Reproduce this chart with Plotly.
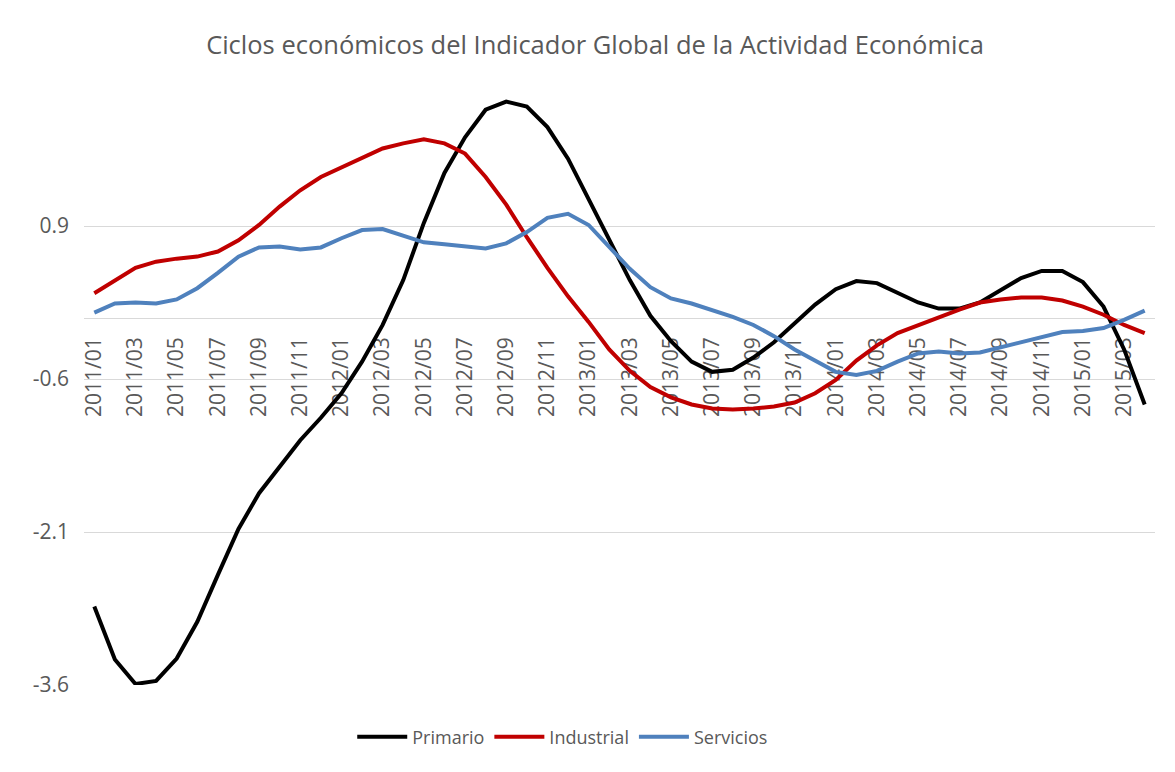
import plotly.graph_objects as go

categorias = [
    "2011/01", "2011/02", "2011/03", "2011/04", "2011/05", "2011/06", "2011/07", "2011/08", "2011/09", "2011/10", "2011/11", "2011/12",
    "2012/01", "2012/02", "2012/03", "2012/04", "2012/05", "2012/06", "2012/07", "2012/08", "2012/09", "2012/10", "2012/11", "2012/12",
    "2013/01", "2013/02", "2013/03", "2013/04", "2013/05", "2013/06", "2013/07", "2013/08", "2013/09", "2013/10", "2013/11", "2013/12",
    "2014/01", "2014/02", "2014/03", "2014/04", "2014/05", "2014/06", "2014/07", "2014/08", "2014/09", "2014/10", "2014/11", "2014/12",
    "2015/01", "2015/02", "2015/03", "2015/04",
]

primario = [-2.83, -3.35, -3.59, -3.56, -3.34, -2.98, -2.52, -2.07, -1.72, -1.46, -1.20, -0.98,
            -0.74, -0.43, -0.07, 0.37, 0.93, 1.42, 1.77, 2.04, 2.12, 2.07, 1.87, 1.56,
            1.17, 0.77, 0.37, 0.02, -0.23, -0.43, -0.53, -0.51, -0.39, -0.24, -0.06, 0.13,
            0.28, 0.36, 0.34, 0.25, 0.15, 0.09, 0.09, 0.15, 0.27, 0.39, 0.46, 0.46,
            0.35, 0.11, -0.31, -0.85]

industrial = [0.24, 0.37, 0.49, 0.55, 0.58, 0.60, 0.65, 0.76, 0.91, 1.09, 1.25, 1.38,
              1.47, 1.57, 1.66, 1.71, 1.75, 1.71, 1.61, 1.38, 1.11, 0.79, 0.49, 0.21,
              -0.04, -0.31, -0.52, -0.68, -0.78, -0.85, -0.89, -0.90, -0.89, -0.87, -0.83, -0.74,
              -0.61, -0.42, -0.27, -0.15, -0.07, 0.01, 0.08, 0.15, 0.18, 0.20, 0.20, 0.17,
              0.11, 0.03, -0.07, -0.15]

servicios = [0.05, 0.14, 0.15, 0.14, 0.18, 0.29, 0.44, 0.60, 0.69, 0.70, 0.67, 0.69,
             0.78, 0.86, 0.87, 0.81, 0.74, 0.72, 0.70, 0.68, 0.73, 0.84, 0.98, 1.02,
             0.91, 0.70, 0.48, 0.30, 0.19, 0.14, 0.08, 0.01, -0.07, -0.18, -0.31, -0.42,
             -0.53, -0.56, -0.52, -0.43, -0.35, -0.33, -0.35, -0.34, -0.29, -0.25, -0.19, -0.14,
             -0.13, -0.10, -0.02, 0.07]

y_ticks = [0.9, -0.6, -2.1, -3.6]
y_ticktext = ["0.9", "-0.6", "-2.1", "-3.6"]
x_ticks = categorias[::2]

series = [("Primario", primario, "#000000"),
          ("Industrial", industrial, "#C00000"),
          ("Servicios", servicios, "#4F81BD")]

FONT = "Open Sans"
GRAY = "#595959"
GRID = "#D9D9D9"

# page body has an 8px margin in the browser
OFF = 8
W, H = 1175 - OFF, 772 - OFF

fig = go.Figure()
for nombre, valores, color in series:
    fig.add_trace(go.Scatter(x=categorias, y=valores, mode="lines", name=nombre,
                             line=dict(color=color, width=4)))

ymin, ymax = -3.6, 2.4
fig.update_layout(
    width=W, height=H,
    margin=dict(l=84 - OFF, r=20, t=73 - OFF, b=87, pad=0),
    paper_bgcolor="white", plot_bgcolor="white",
    title=dict(text="Ciclos económicos del Indicador Global de la Actividad Económica",
               x=(595 - OFF) / W, xanchor="center", y=1 - (45 - OFF) / H, yanchor="middle",
               font=dict(family=FONT, size=25.5, color=GRAY)),
    xaxis=dict(type="category", range=[-0.5, len(categorias) - 0.5],
               tickmode="array", tickvals=x_ticks, tickangle=-90,
               showline=True, linecolor=GRID, linewidth=1,
               anchor="free", position=(0 - ymin) / (ymax - ymin),
               showgrid=False, ticks="", layer="below traces", ticklabelstandoff=10,
               tickfont=dict(family=FONT, size=21, color=GRAY)),
    yaxis=dict(range=[ymin, ymax], tickmode="array", tickvals=y_ticks, ticktext=y_ticktext,
               showgrid=True, gridcolor=GRID, gridwidth=1, zeroline=False, showline=False,
               ticks="", ticklabelstandoff=14,
               tickfont=dict(family=FONT, size=21, color=GRAY)),
    legend=dict(orientation="h", x=0.447, xanchor="center", y=-0.085, yanchor="middle",
                itemwidth=50,
                font=dict(family=FONT, size=18, color=GRAY)),
    shapes=[dict(type="rect", xref="paper", yref="paper",
                 x0=(7 - 84) / 1071, x1=1.2, y0=-0.3, y1=(685 - 6) / 612,
                 line=dict(color=GRID, width=1), layer="below")],
)

fig.write_html("out.html")
